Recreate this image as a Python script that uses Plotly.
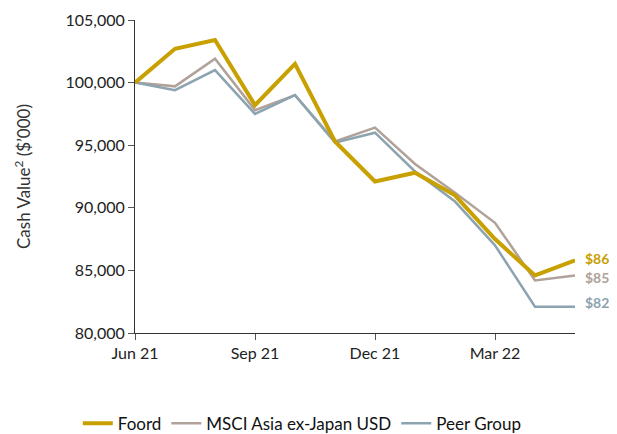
import plotly.graph_objects as go

months = ["Jun 21", "Jul 21", "Aug 21", "Sep 21", "Oct 21", "Nov 21",
          "Dec 21", "Jan 22", "Feb 22", "Mar 22", "Apr 22", "May 22"]
foord = [100000, 102700, 103400, 98200, 101500, 95300, 92100, 92800, 91000, 87500, 84600, 85800]
msci = [100000, 99700, 101900, 97800, 99000, 95300, 96400, 93500, 91200, 88800, 84200, 84600]
peer = [100000, 99400, 101000, 97500, 99000, 95200, 96000, 92900, 90500, 87000, 82100, 82100]
tick_months = ["Jun 21", "Sep 21", "Dec 21", "Mar 22"]
end_labels = ["$86", "$85", "$82"]

c_foord = "#C8A000"
c_msci = "#B0A199"
c_peer = "#8CA3B0"

fig = go.Figure()
fig.add_trace(go.Scatter(x=months, y=msci, mode="lines", name="MSCI Asia ex-Japan USD",
                         line=dict(color=c_msci, width=2.5), legendrank=2))
fig.add_trace(go.Scatter(x=months, y=peer, mode="lines", name="Peer Group",
                         line=dict(color=c_peer, width=2.5), legendrank=3))
fig.add_trace(go.Scatter(x=months, y=foord, mode="lines", name="Foord",
                         line=dict(color=c_foord, width=4), legendrank=1))

for val, lab, col, ys in [(foord[-1], end_labels[0], c_foord, 2),
                          (msci[-1], end_labels[1], c_msci, -2),
                          (peer[-1], end_labels[2], c_peer, 4)]:
    fig.add_annotation(x=months[-1], y=val, text=f"<b>{lab}</b>", showarrow=False,
                       xanchor="left", yanchor="middle", xshift=8, yshift=ys,
                       font=dict(size=14, color=col, family="Lato"))

fig.update_layout(
    width=609, height=426,
    margin=dict(l=127, r=42, t=12, b=101, autoexpand=False),
    paper_bgcolor="white", plot_bgcolor="white",
    font=dict(family="Lato", size=16, color="#222222"),
    showlegend=True,
    legend=dict(orientation="h", x=-0.13, xanchor="left", y=-0.29, yanchor="middle",
                font=dict(size=17, color="#111111"), itemwidth=30,
                traceorder="normal"),
)
fig.update_xaxes(type="category", range=[0, len(months) - 1],
                 tickmode="array", tickvals=tick_months, ticktext=tick_months,
                 showline=True, linecolor="#333333", linewidth=1,
                 ticks="outside", ticklen=6, tickcolor="#555555",
                 showgrid=False, zeroline=False, tickfont=dict(size=16))
fig.update_yaxes(range=[80000, 105000], tickvals=[80000, 85000, 90000, 95000, 100000, 105000],
                 tickformat=",", showline=True, linecolor="#333333", linewidth=1,
                 ticks="outside", ticklen=6, tickcolor="#555555",
                 showgrid=False, zeroline=False, tickfont=dict(size=16),
                 title=dict(text="Cash Value<sup>2</sup> ($\u2019000)", font=dict(size=17, color="#333333"),
                            standoff=30))

fig.write_html("out.html")
